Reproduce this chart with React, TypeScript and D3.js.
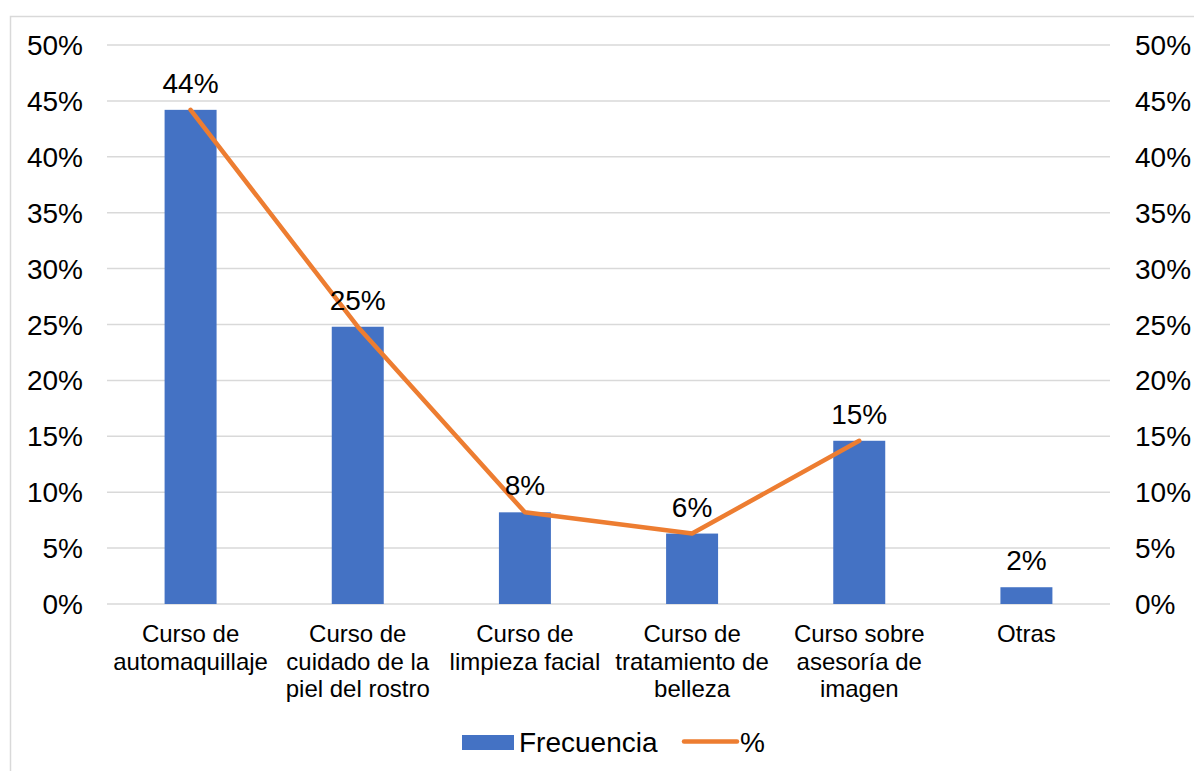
import React from "react";
import * as d3 from "d3";

// Course categories (x axis); "\n" marks the line breaks of each label
const categories = [
  "Curso de\nautomaquillaje",
  "Curso de\ncuidado de la\npiel del rostro",
  "Curso de\nlimpieza facial",
  "Curso de\ntratamiento de\nbelleza",
  "Curso sobre\nasesoría de\nimagen",
  "Otras",
];

// Bar series: frequency share per course (percent)
const frecuencia = [44.2, 24.8, 8.2, 6.3, 14.6, 1.5];

// Line series: percentage (no value for "Otras")
const porcentaje: (number | null)[] = [44.2, 24.8, 8.2, 6.3, 14.6, null];

// Axis ticks (percent)
const ticks = [0, 5, 10, 15, 20, 25, 30, 35, 40, 45, 50];

const W = 1194;
const H = 771;
const FONT = "'Liberation Sans', Arial, sans-serif";
const BLUE = "#4472C4";
const ORANGE = "#ED7D31";
const GRID = "#D9D9D9";

export default function App() {
  const left = 107;
  const right = 1110;
  const top = 45;
  const bottom = 604;

  const x = d3
    .scaleBand<string>()
    .domain(categories)
    .range([left, right])
    .paddingInner(0.689)
    .paddingOuter(0.3445);

  const y = d3.scaleLinear().domain([0, 50]).range([bottom, top]);

  const cx = (i: number) => (x(categories[i]) as number) + x.bandwidth() / 2;

  const linePts = porcentaje
    .map((v, i) => (v == null ? null : ([cx(i), y(v)] as [number, number])))
    .filter((p): p is [number, number] => p !== null);
  const linePath = d3.line()(linePts) || "";

  const fmt = (v: number) => `${Math.round(v)}%`;

  return (
    <div style={{ position: "fixed", left: 0, top: 0 }}>
      <svg width={W} height={H} style={{ display: "block", background: "#fff" }} fontFamily={FONT}>
        <rect x={10.5} y={16.5} width={1300} height={900} fill="#fff" stroke={GRID} strokeWidth={1.5} />

        {/* gridlines */}
        {ticks.map((t) => (
          <line key={`g${t}`} x1={left} x2={right} y1={y(t)} y2={y(t)} stroke={GRID} strokeWidth={1.5} />
        ))}

        {/* left axis labels */}
        {ticks.map((t) => (
          <text key={`l${t}`} x={83} y={y(t) + 10} fontSize={28} textAnchor="end" fill="#000">
            {`${t}%`}
          </text>
        ))}

        {/* right axis labels */}
        {ticks.map((t) => (
          <text key={`r${t}`} x={1135} y={y(t) + 10} fontSize={28} textAnchor="start" fill="#000">
            {`${t}%`}
          </text>
        ))}

        {/* bars */}
        {frecuencia.map((v, i) => (
          <rect
            key={`b${i}`}
            x={x(categories[i]) as number}
            y={y(v)}
            width={x.bandwidth()}
            height={y(0) - y(v)}
            fill={BLUE}
          />
        ))}

        {/* percentage line */}
        <path d={linePath} fill="none" stroke={ORANGE} strokeWidth={4.5} strokeLinejoin="round" strokeLinecap="round" />

        {/* data labels */}
        {frecuencia.map((v, i) => (
          <text key={`d${i}`} x={cx(i)} y={y(v) - 17} fontSize={28} textAnchor="middle" fill="#000">
            {fmt(v)}
          </text>
        ))}

        {/* category labels */}
        {categories.map((c, i) => (
          <text key={`c${i}`} x={cx(i)} y={642} fontSize={24} textAnchor="middle" fill="#000">
            {c.split("\n").map((ln, j) => (
              <tspan key={j} x={cx(i)} dy={j === 0 ? 0 : 27.5}>
                {ln}
              </tspan>
            ))}
          </text>
        ))}

        {/* legend */}
        <rect x={462} y={735} width={52} height={15} fill={BLUE} />
        <text x={519} y={752} fontSize={28} fill="#000">Frecuencia</text>
        <line x1={684} x2={737} y1={741.5} y2={741.5} stroke={ORANGE} strokeWidth={4.5} strokeLinecap="round" />
        <text x={740} y={752} fontSize={28} fill="#000">%</text>
      </svg>
    </div>
  );
}
